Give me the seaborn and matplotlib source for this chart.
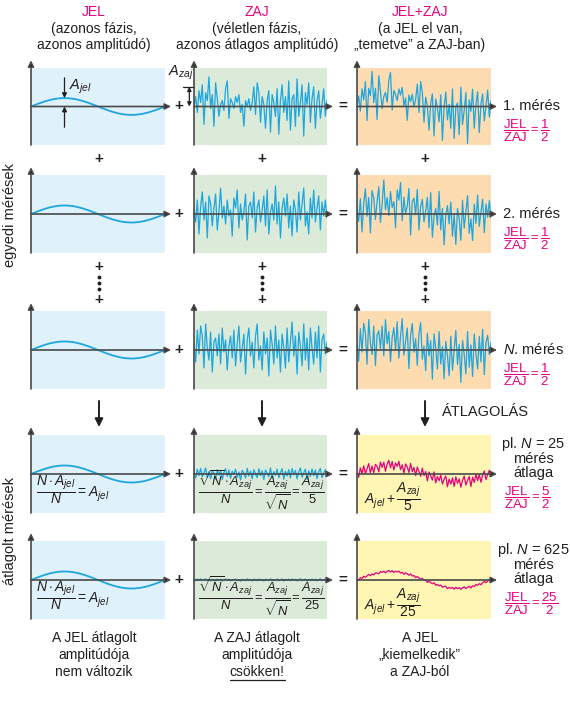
import numpy as np
import pandas as pd
import matplotlib
matplotlib.use("Agg")
import matplotlib.pyplot as plt
import seaborn as sns

# negyed periodus a JEL szinuszabol (0..1)
quarter = [0.0, 0.078, 0.156, 0.233, 0.309, 0.383, 0.454, 0.522, 0.588, 0.649, 0.707,
           0.760, 0.809, 0.853, 0.891, 0.924, 0.951, 0.972, 0.988, 0.997, 1.0]
jel_amp = 8.5
zaj_amp = 20

# ZAJ mintak (kepbol becsulve)
zaj_1 = [0, 10, -6, 16, 4, 22, -18, 14, 6, 30,
         -2, 12, -20, 24, 8, -10, 2, 6, -4, 18,
         26, -12, 8, 4, -2, 10, 4, 12, -6, 2,
         -20, 6, 0, 8, -4, 4, 20, -8, 24, 14,
         -16, 10, 2, -22, 6, 16, -26, 12, 4, -10,
         18, -28, 6, 22, -6, 10, -14, 26, -24, 8,
         12, -20, 28, -10, 4, 22, -30, 14, 2, 24,
         -16, 8, 20, -22, 6, 16, -12, 2, 18, -10,
         6]
zaj_2 = [4, -8, 14, -20, 8, 22, -6, 12, -24, 18,
         10, -12, 6, 20, -16, 2, 26, -4, 8, -10,
         14, -2, 4, -22, 16, 6, 24, -14, 10, -6,
         2, 20, -26, 8, 12, -4, 22, -18, 6, 14,
         -8, 4, 18, -12, 24, -20, 2, 10, -6, 28,
         -10, 12, -24, 6, 16, -2, 20, -14, 8, -22,
         14, 4, -18, 22, -6, 10, 26, -12, 2, -20,
         16, -4, 24, -8, 6, 18, -16, 12, -2, 14,
         -4]
zaj_N = [6, -12, 20, -4, 24, 14, -18, 26, 2, -10,
         18, -22, 8, 12, -6, 16, -14, 22, -2, 10,
         -20, 4, 14, -8, 20, -16, 6, 24, -12, 2,
         16, -24, 10, 22, -6, 8, -18, 14, 26, -10,
         4, -20, 18, -4, 12, -26, 20, 6, -14, 24,
         -8, 10, -22, 16, 2, -18, 22, -12, 8, 28,
         -6, 14, -24, 18, 4, -16, 26, -10, 12, -20,
         22, 2, -14, 18, -8, 24, -22, 10, 16, -4,
         8]
zaj_avg = [10, -20, 24, -8, 28, -14, 6, 30, -18, 12,
           -24, 16, 4, -26, 22, -6, 18, -28, 8, 26,
           -12, 20, -22, 14, -2, 24, -16, 10, -30, 18,
           6, -20, 28, -10, 14, -24, 22, 2, -18, 26,
           -8, 16, -28, 20, 4, -14, 30, -22, 12, -6,
           24, -18, 8, 26, -26, 14, -10, 22, -20, 28,
           -4, 18, -24, 10, 30, -16, 6, 24, -28, 16,
           -12, 26, -8, 20, -22, 12, 28, -18, 4, 22,
           -6]
avg_div = [5, 25]
avg_N = [25, 625]

headers = [["JEL", "(azonos fázis,", "azonos amplitúdó)"],
           ["ZAJ", "(véletlen fázis,", "azonos átlagos amplitúdó)"],
           ["JEL+ZAJ", "(a JEL el van,", "„temetve” a ZAJ-ban)"]]
footers = [["A JEL átlagolt", "amplitúdója", "nem változik"],
           ["A ZAJ átlagolt", "amplitúdója", "csökken!"],
           ["A JEL", "„kiemelkedik”", "a ZAJ-ból"]]
meres_labels = ["1. mérés", "2. mérés", "$N$. mérés"]

sns.set_theme(style="white")
plt.rcParams["font.family"] = ["Liberation Sans", "DejaVu Sans"]
plt.rcParams["mathtext.fontset"] = "custom"
plt.rcParams["mathtext.rm"] = "Liberation Sans"
plt.rcParams["mathtext.it"] = "Liberation Sans:italic"
plt.rcParams["mathtext.bf"] = "Liberation Sans:bold"

ink = "#231f20"
magenta = "#e5007e"
blue = "#1ea6df"
axis_col = "#4a4a4a"
bg = ["#dff1fb", "#dcebd9", "#fddcb2", "#fff6b4"]

W, H = 570, 704
col_x = [(31, 165), (194, 327), (357, 491)]
row_y = [(68, 145), (175, 253), (311, 389), (435, 513), (541, 619)]

q = np.array(quarter)
jel = np.concatenate([q, q[::-1][1:], -q[1:], -q[::-1][1:]]) * jel_amp
t = np.arange(len(jel))
zaj_rows = [np.array(zaj_1), np.array(zaj_2), np.array(zaj_N),
            np.array(zaj_avg) / avg_div[0], np.array(zaj_avg) / avg_div[1]]

fig = plt.figure(figsize=(W / 100, H / 100), dpi=100)


def panel(r, c):
    x0, x1 = col_x[c]
    y0, y1 = row_y[r]
    ax = fig.add_axes([x0 / W, 1 - y1 / H, (x1 - x0) / W, (y1 - y0) / H])
    ax.set_facecolor(bg[c] if c < 2 else (bg[2] if r < 3 else bg[3]))
    for s in ax.spines.values():
        s.set_visible(False)
    return ax


axes_grid = []
for r in range(5):
    row_axes = []
    for c in range(3):
        ax = panel(r, c)
        if c == 0:
            y = jel
            col = blue
            lw = 1.3
        elif c == 1:
            y = zaj_rows[r]
            col = blue
            lw = 0.9
        else:
            y = jel + zaj_rows[r]
            col = blue if r < 3 else magenta
            lw = 0.9
        df = pd.DataFrame({"t": t, "y": y})
        sns.lineplot(data=df, x="t", y="y", ax=ax, color=col, lw=lw, zorder=3)
        ax.set_xlim(0, len(t) - 1)
        ax.set_ylim(-39, 39)
        ax.set_xlabel("")
        ax.set_ylabel("")
        ax.set_xticks([])
        ax.set_yticks([])
        # tengelyek nyillal
        ax.annotate("", xy=(1.045, 0.5), xytext=(0, 0.5), xycoords="axes fraction",
                    arrowprops=dict(arrowstyle="-|>", color=axis_col, lw=1.2, shrinkA=0,
                                    shrinkB=0, mutation_scale=9, fc=ink),
                    annotation_clip=False, zorder=5)
        ax.annotate("", xy=(0, 1.1), xytext=(0, 0), xycoords="axes fraction",
                    arrowprops=dict(arrowstyle="-|>", color=axis_col, lw=1.2, shrinkA=0,
                                    shrinkB=0, mutation_scale=9, fc=ink),
                    annotation_clip=False, zorder=5)
        row_axes.append(ax)
    axes_grid.append(row_axes)

# A_jel jeloles
a0 = axes_grid[0][0]
ai = len(quarter) - 1
a0.annotate("", xy=(ai, jel[ai]), xytext=(ai, 29),
            arrowprops=dict(arrowstyle="-|>", color=ink, lw=0.9, shrinkA=0, shrinkB=0,
                            mutation_scale=7), zorder=6)
a0.annotate("", xy=(ai, 0), xytext=(ai, -21),
            arrowprops=dict(arrowstyle="-|>", color=ink, lw=0.9, shrinkA=0, shrinkB=0,
                            mutation_scale=7), zorder=6)
a0.text(ai + 2.5, 20, "$A_{jel}$", fontsize=10.5, color=ink, va="center")

# A_zaj jeloles
a1 = axes_grid[0][1]
tr = a1.get_yaxis_transform()
a1.annotate("", xy=(-0.035, zaj_amp), xytext=(-0.035, 0), xycoords=tr, textcoords=tr,
            arrowprops=dict(arrowstyle="<|-|>", color=ink, lw=0.9, shrinkA=0, shrinkB=0,
                            mutation_scale=6), annotation_clip=False)
a1.plot([-0.08, 0], [zaj_amp, zaj_amp], transform=tr, color=ink, lw=0.9, clip_on=False)
a1.text(-0.1, 34, "$A_{zaj}$", transform=tr, fontsize=10.5, color=ink, ha="center",
        va="center", clip_on=False)

# szovegek, jelek
ov = fig.add_axes([0, 0, 1, 1])
ov.set_xlim(0, W)
ov.set_ylim(H, 0)
ov.axis("off")

col_center = [98, 261, 424]
for c in range(3):
    for k, line in enumerate(headers[c]):
        ov.text(col_center[c] - 4, [12, 29, 45][k], line, ha="center", va="center",
                fontsize=10, color=magenta if k == 0 else ink)
    footer_texts = []
    for k, line in enumerate(footers[c]):
        ft = ov.text(col_center[c] - 4, [638, 655, 672][k], line, ha="center",
                     va="center", fontsize=10, color=ink)
        footer_texts.append(ft)
    if c == 1:
        underline_text = footer_texts[2]
    # + jelek sorok kozott
    for py in [159, 267, 300]:
        ov.text(col_center[c] + 1, py, "+", ha="center", va="center", fontsize=11,
                fontweight="bold", color=ink)
    for dy in [277, 283, 289]:
        ov.plot([col_center[c] + 1], [dy], "o", ms=1.8, color=ink)
    ov.annotate("", xy=(col_center[c] + 1, 427), xytext=(col_center[c] + 1, 401),
                arrowprops=dict(arrowstyle="-|>", color=ink, lw=1.4, mutation_scale=12,
                                shrinkA=0, shrinkB=0))

axis_y = [106, 214, 350, 474, 580]
for r in range(5):
    ov.text(179, axis_y[r], "+", ha="center", va="center", fontsize=11,
            fontweight="bold", color=ink)
    ov.text(343, axis_y[r], "=", ha="center", va="center", fontsize=11,
            fontweight="bold", color=ink)

frac = r"$\dfrac{\mathrm{JEL}}{\mathrm{ZAJ}}=\dfrac{%s}{%s}$"
for r in range(3):
    ov.text(503, axis_y[r], meres_labels[r], ha="left", va="center", fontsize=10.5,
            color=ink)
    ov.text(503, axis_y[r] + 25, frac % (1, 2), ha="left", va="center", fontsize=9.5,
            color=magenta)

ov.text(442, 412, "ÁTLAGOLÁS", ha="left", va="center", fontsize=10.5, color=ink)
for k, r in enumerate([3, 4]):
    yb = axis_y[r]
    ov.text(533, yb - 30, "pl. $N$ = %d" % avg_N[k], ha="center", va="center",
            fontsize=10.5, color=ink)
    ov.text(533, yb - 15, "mérés", ha="center", va="center", fontsize=10.5, color=ink)
    ov.text(533, yb - 1, "átlaga", ha="center", va="center", fontsize=10.5, color=ink)
    ov.text(504, yb + 24, frac % (avg_div[k], 2), ha="left", va="center",
            fontsize=9.5, color=magenta)
    ov.text(36, yb + 16, r"$\dfrac{N\cdot A_{jel}}{N}=A_{jel}$", ha="left",
            va="center", fontsize=10, color=ink)
    ov.text(198, yb + 16,
            r"$\dfrac{\sqrt{N}\cdot A_{zaj}}{N}=\dfrac{A_{zaj}}{\sqrt{N}}=\dfrac{A_{zaj}}{%d}$"
            % avg_div[k], ha="left", va="center", fontsize=9.4, color=ink)
    ov.text(364, yb + 23, r"$A_{jel}+\dfrac{A_{zaj}}{%d}$" % avg_div[k], ha="left",
            va="center", fontsize=10, color=ink)

# bal oldali feliratok
ov.text(10, 215, "egyedi mérések", rotation=90, ha="center", va="center",
        fontsize=10.5, color=ink)
ov.text(10, 531, "átlagolt mérések", rotation=90, ha="center", va="center",
        fontsize=10.5, color=ink)

# alahuzas a "csökken!" alatt
fig.canvas.draw()
bb = underline_text.get_window_extent()
inv = ov.transData.inverted()
(ux0, uy0), (ux1, uy1) = inv.transform([[bb.x0, bb.y0], [bb.x1, bb.y1]])
ov.plot([ux0, ux1], [uy0 + 1, uy0 + 1], color=ink, lw=0.9)

fig.savefig("out.png", dpi=100)
